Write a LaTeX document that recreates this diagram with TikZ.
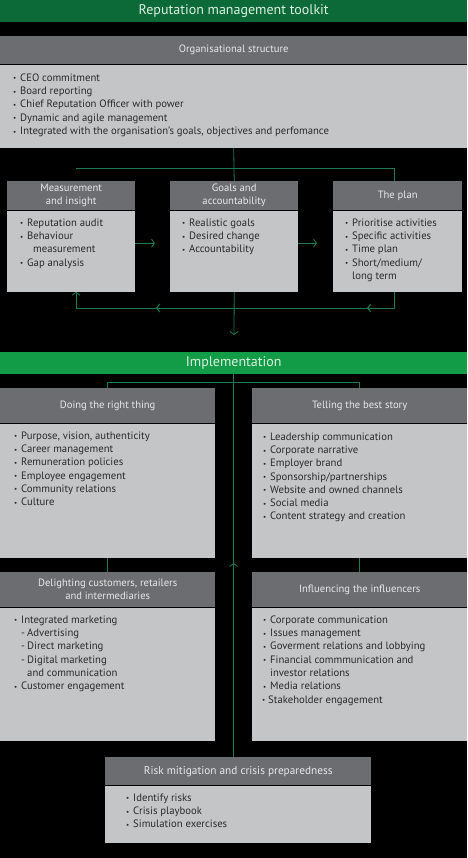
\documentclass[tikz,border=0pt]{standalone}
\usepackage{fontspec}
\setmainfont{PT Sans}
\usetikzlibrary{positioning,arrows.meta,decorations.markings}

\definecolor{titlegreen}{HTML}{0B6A38}
\definecolor{impgreen}{HTML}{129C48}
\definecolor{hdrgray}{HTML}{6C6D70}
\definecolor{bodygray}{HTML}{C4C5C7}
\definecolor{lnkgreen}{HTML}{1D7A55}
\definecolor{hdrtext}{HTML}{E8E8E8}
\definecolor{bartext}{HTML}{DDEFE2}
\definecolor{bodytext}{HTML}{2A2A2A}

\newcommand{\bt}{\makebox[7pt][l]{\raisebox{0.4pt}{\scriptsize\textbullet}}}
\newcommand{\ds}{\hspace{7pt}\makebox[6pt][l]{-}}

\begin{document}
\begin{tikzpicture}[x=1pt, y=-1pt]
\tikzset{
  bar/.style={anchor=north west, inner sep=0, minimum width=467, minimum height=22,
    text=bartext, font=\fontsize{14}{15}\selectfont},
  hdr/.style={anchor=north west, inner sep=0, fill=hdrgray, text=hdrtext, align=center,
    font=\fontsize{10.6}{13}\selectfont},
  bdy/.style={inner sep=0, fill=bodygray},
  lst/.style={anchor=north west, inner sep=0, align=left, text=bodytext,
    font=\fontsize{10.7}{13.3}\selectfont},
  lnk/.style={draw=lnkgreen, line width=0.8pt},
  arr/.style={lnk, -{Straight Barb[length=3pt, width=8pt]}},
  barb/.style={decoration={markings, mark=at position #1 with
    {\arrow{Straight Barb[length=3pt, width=8pt]}}}, postaction={decorate}}}

\fill[black] (0,0) rectangle (467,858);
\useasboundingbox (0,0) rectangle (467,858);

% ---------------- title and organisational structure ----------------
\node[bar, fill=titlegreen] (title) at (0,0) {Reputation management toolkit};

\node[hdr, minimum width=467, minimum height=28] (orgH) at (0,36) {Organisational structure};
\node[bdy, minimum width=467, minimum height=83, below=0pt of orgH] (org) {};
\node[lst] (orgL) at ([xshift=13pt, yshift=-9pt]org.north west) {%
  \bt CEO commitment\\
  \bt Board reporting\\
  \bt Chief Reputation Officer with power\\
  \bt Dynamic and agile management\\
  \bt Integrated with the organisation’s goals, objectives and perfomance};

% ---------------- measurement, goals, plan ----------------
\node[hdr, minimum width=128, minimum height=29] (measH) at (7,181) {Measurement\\and insight};
\node[bdy, minimum width=128, minimum height=81, below=0pt of measH] (meas) {};
\node[lst] (measL) at ([xshift=13pt, yshift=-8pt]meas.north west) {%
  \bt Reputation audit\\
  \bt Behaviour\\
  \hspace{13pt}measurement\\
  \bt Gap analysis};

\node[hdr, minimum width=128, minimum height=29] (goalsH) at (170,181) {Goals and\\accountability};
\node[bdy, minimum width=128, minimum height=81, below=0pt of goalsH] (goals) {};
\node[lst] (goalsL) at ([xshift=12pt, yshift=-8pt]goals.north west) {%
  \bt Realistic goals\\
  \bt Desired change\\
  \bt Accountability};

\node[hdr, minimum width=129, minimum height=29] (planH) at (333,181) {The plan};
\node[bdy, minimum width=129, minimum height=81, below=0pt of planH] (plan) {};
\node[lst] (planL) at ([xshift=12pt, yshift=-8pt]plan.north west) {%
  \bt Prioritise activities\\
  \bt Specific activities\\
  \bt Time plan\\
  \bt Short/medium/\\
  \hspace{7pt}long term};

\coordinate (hl) at (76,168);
\coordinate (fbR) at (394,308);
\coordinate (fbL) at (76,308);
\coordinate (down) at (234,335);

\draw[lnk] (org.south) -- (goalsH.north);
\draw[lnk] (hl) -- (hl -| fbR) -- (planH.north -| fbR);
\draw[arr, shorten >=15pt] ([yshift=8pt]meas.east) -- ([yshift=8pt]goals.west);
\draw[arr, shorten >=16pt] ([yshift=8pt]goals.east) -- ([yshift=8pt]plan.west);
\draw[arr, barb=43pt, barb=254pt] (plan.south -| fbR) -- (fbR) -- (fbL) -- (meas.south -| fbL);
\draw[arr] (goals.south) -- (down);

% ---------------- implementation ----------------
\node[bar, fill=impgreen] (impl) at (0,352) {Implementation};

\node[hdr, minimum width=215, minimum height=35] (doingH) at (0,388) {Doing the right thing};
\node[bdy, minimum width=215, minimum height=134, below=0pt of doingH] (doing) {};
\node[lst] (doingL) at ([xshift=14pt, yshift=-8pt]doing.north west) {%
  \bt Purpose, vision, authenticity\\
  \bt Career management\\
  \bt Remuneration policies\\
  \bt Employee engagement\\
  \bt Community relations\\
  \bt Culture};

\node[hdr, minimum width=215, minimum height=35] (tellH) at (252,388) {Telling the best story};
\node[bdy, minimum width=215, minimum height=134, below=0pt of tellH] (tell) {};
\node[lst] (tellL) at ([xshift=11pt, yshift=-9pt]tell.north west) {%
  \bt Leadership communication\\
  \bt Corporate narrative\\
  \bt Employer brand\\
  \bt Sponsorship/partnerships\\
  \bt Website and owned channels\\
  \bt Social media\\
  \bt Content strategy and creation};

\node[hdr, minimum width=215, minimum height=35] (delH) at (0,572) {Delighting customers, retailers\\and intermediaries};
\node[bdy, minimum width=215, minimum height=133, below=0pt of delH] (del) {};
\node[lst] (delL) at ([xshift=14pt, yshift=-8pt]del.north west) {%
  \bt Integrated marketing\\
  \ds Advertising\\
  \ds Direct marketing\\
  \ds Digital marketing\\
  \hspace{13pt}and communication\\
  \bt Customer engagement};

\node[hdr, minimum width=215, minimum height=35] (inflH) at (252,572) {Influencing the influencers};
\node[bdy, minimum width=215, minimum height=133, below=0pt of inflH] (infl) {};
\node[lst] (inflL) at ([xshift=11pt, yshift=-8pt]infl.north west) {%
  \bt Corporate communication\\
  \bt Issues management\\
  \bt Goverment relations and lobbying\\
  \bt Financial commmunication and\\
  \hspace{7pt}investor relations\\
  \bt Media relations\\
  \hspace{-1pt}\makebox[6pt][l]{\raisebox{0.4pt}{\scriptsize\textbullet}}Stakeholder engagement};

\node[hdr, minimum width=266, minimum height=28, font=\fontsize{11.3}{13}\selectfont] (riskH) at (105,757) {Risk mitigation and crisis preparedness};
\node[bdy, minimum width=266, minimum height=57, below=0pt of riskH] (risk) {};
\node[lst] (riskL) at ([xshift=21pt, yshift=-8pt]risk.north west) {%
  \bt Identify risks\\
  \bt Crisis playbook\\
  \bt Simulation exercises};

\draw[lnk] (doingH.north) -- (doingH.north |- 0,382) -- (tellH.north |- 0,382) -- (tellH.north);
\draw[lnk] (doing.south) -- (delH.north);
\draw[lnk] (tell.south) -- (inflH.north);
\draw[lnk, barb=194pt] (impl.south |- riskH.north) -- (impl.south);
\end{tikzpicture}
\end{document}
